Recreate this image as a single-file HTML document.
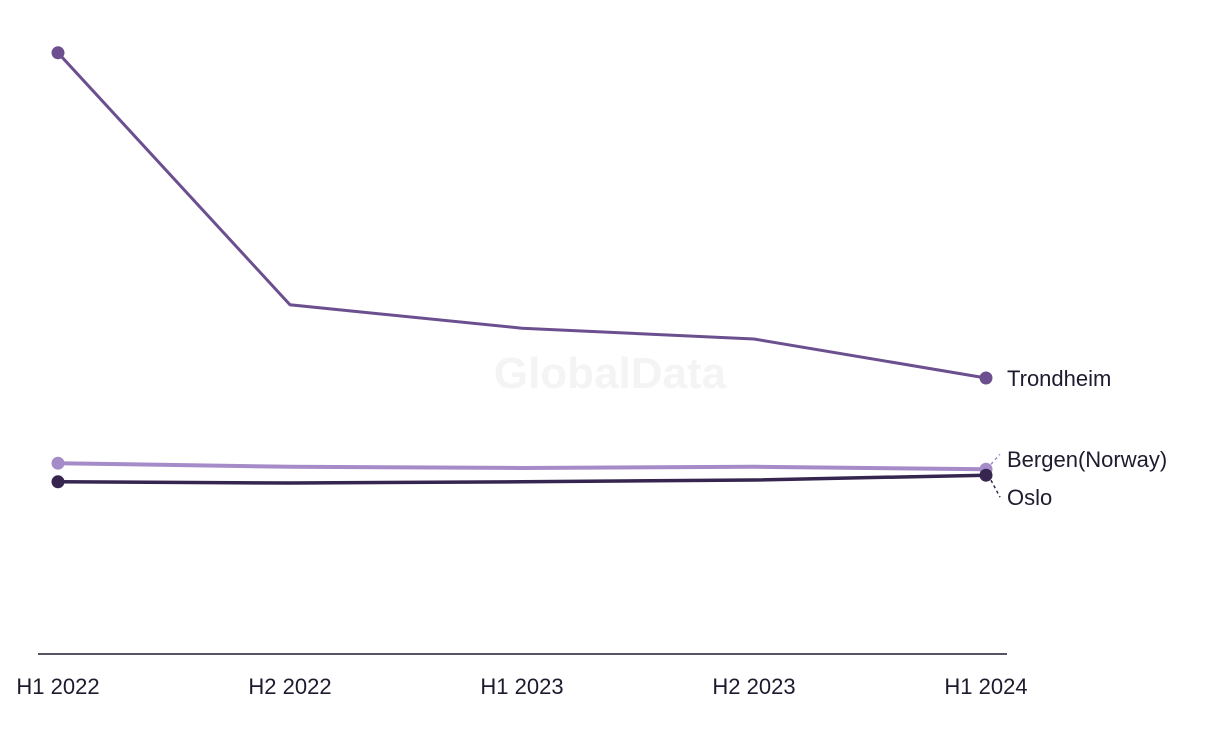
<!DOCTYPE html>
<html><head><meta charset="utf-8"><style>
body{margin:0;background:#fff;width:1220px;height:744px;overflow:hidden;font-family:"Liberation Sans",sans-serif}
</style></head><body>
<svg width="1220" height="744" id="chart">
<text x="610" y="388" text-anchor="middle" font-size="44" font-weight="bold" fill="#f4f4f4">GlobalData</text>
<line x1="38" y1="654" x2="1007" y2="654" stroke="#1e1b2e" stroke-width="1.5"/>
</svg>
<script>
const categories=["H1 2022","H2 2022","H1 2023","H2 2023","H1 2024"];
const trondheim=[100.2,58.2,54.3,52.5,46.0];
const bergen=[31.8,31.2,31.0,31.2,30.8];
const oslo=[28.7,28.5,28.7,29.0,29.8];
const svg=document.getElementById('chart');
const NS='http://www.w3.org/2000/svg';
const x=i=>58+i*232;
const y=v=>654-v*6;
function mk(t,a){const e=document.createElementNS(NS,t);for(const k in a)e.setAttribute(k,a[k]);svg.appendChild(e);return e;}
categories.forEach((c,i)=>{
  const t=mk('text',{x:x(i),y:694,'text-anchor':'middle','font-size':22,fill:'#1e1b2e'});
  t.textContent=c;
  
  
});
const series=[
 {name:'Trondheim',d:trondheim,c:'#6b4f8f',w:3,ly:0},
 {name:'Bergen(Norway)',d:bergen,c:'#a58bc8',w:4,ly:-10},
 {name:'Oslo',d:oslo,c:'#35254f',w:3.5,ly:22}
];
series.forEach(s=>{
  const p=mk('polyline',{points:s.d.map((v,i)=>x(i)+','+y(v)).join(' '),fill:'none',stroke:s.c,'stroke-width':s.w});
  
  
  [0,s.d.length-1].forEach(i=>{
    const c=mk('circle',{cx:x(i),cy:y(s.d[i]),r:6.5,fill:s.c});
    
    
  });
  const last=s.d[s.d.length-1];
  const ly=y(last)+s.ly;
  if(s.ly!==0){
    const l=mk('line',{x1:x(4)+5,y1:y(last)+(s.ly<0?-5:5),x2:1000,y2:ly+(s.ly<0?-5:0),stroke:s.c,'stroke-width':1.5,'stroke-dasharray':'3,3'});
    
    
  }
  const t=mk('text',{x:1007,y:ly+8,'font-size':22,fill:'#1e1b2e'});
  t.textContent=s.name;
  
  
});
</script>
</body></html>
